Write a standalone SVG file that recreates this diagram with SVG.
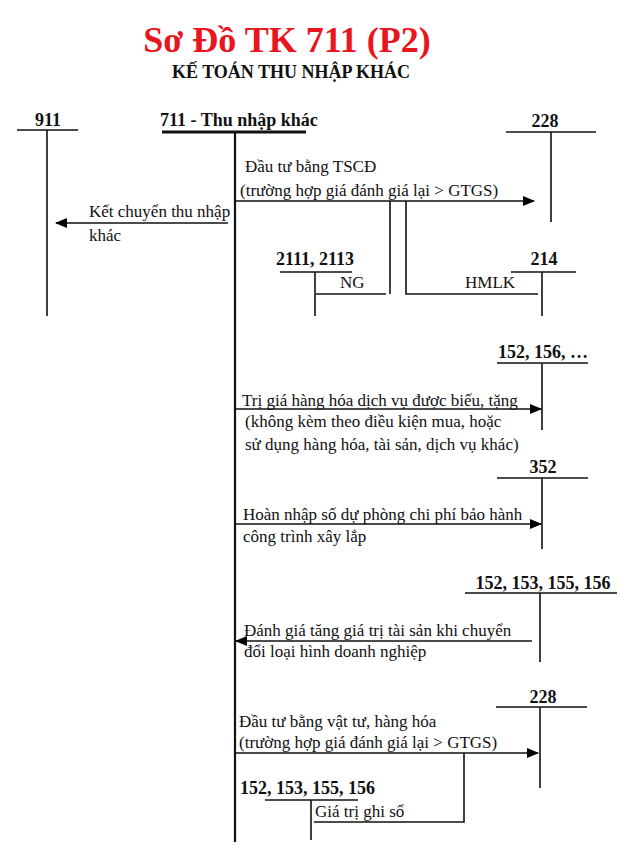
<svg xmlns="http://www.w3.org/2000/svg" width="627" height="850" viewBox="0 0 627 850">
<defs>
<marker id="ah" markerWidth="12" markerHeight="10" refX="11" refY="5" orient="auto" markerUnits="userSpaceOnUse">
<path d="M0,0 L12,5 L0,10 Z" fill="#000"/>
</marker>
<style>
.t{font-family:"Liberation Serif","Times New Roman",serif;font-size:17px;fill:#111}
.b{font-family:"Liberation Serif","Times New Roman",serif;font-size:18px;font-weight:bold;fill:#111}
.ln{stroke:#111;stroke-width:1.6;fill:none}
.mn{stroke:#111;stroke-width:2.2;fill:none}
.ar{stroke:#111;stroke-width:1.6;fill:none;marker-end:url(#ah)}
</style>
</defs>
<rect width="627" height="850" fill="#fff"/>
<g id="title">
<text x="287" y="52" text-anchor="middle" style="font-family:'Liberation Serif','Times New Roman',serif;font-size:36px;font-weight:bold;fill:#e8151d">Sơ Đồ TK 711 (P2)</text>
<text x="291" y="78" text-anchor="middle" class="b">KẾ TOÁN THU NHẬP KHÁC</text>
</g>
<g id="tk911">
<text x="48" y="126" text-anchor="middle" class="b">911</text>
<line x1="17" y1="130" x2="78" y2="130" class="ln"/>
<line x1="47" y1="130" x2="47" y2="316" class="ln"/>
</g>
<g id="tk711">
<text x="160" y="126" class="b">711 - Thu nhập khác</text>
<line x1="162" y1="132" x2="306" y2="132" stroke="#111" stroke-width="3"/>
<line x1="235" y1="132" x2="235" y2="842" class="mn"/>
</g>
<g id="tk228a">
<text x="545" y="127" text-anchor="middle" class="b">228</text>
<line x1="506" y1="132" x2="596" y2="132" class="ln"/>
<line x1="551" y1="132" x2="551" y2="222" class="ln"/>
</g>
<g id="tk2111">
<text x="315" y="265" text-anchor="middle" class="b">2111, 2113</text>
<line x1="280" y1="272" x2="352" y2="272" class="ln"/>
<line x1="315" y1="272" x2="315" y2="316" class="ln"/>
</g>
<g id="tk214">
<text x="544" y="265" text-anchor="middle" class="b">214</text>
<line x1="511" y1="272" x2="576" y2="272" class="ln"/>
<line x1="542" y1="272" x2="542" y2="316" class="ln"/>
</g>
<g id="tk152a">
<text x="543" y="358" text-anchor="middle" class="b">152, 156, …</text>
<line x1="497" y1="363" x2="588" y2="363" class="ln"/>
<line x1="542" y1="363" x2="542" y2="430" class="ln"/>
</g>
<g id="tk352">
<text x="543" y="473" text-anchor="middle" class="b">352</text>
<line x1="497" y1="478" x2="588" y2="478" class="ln"/>
<line x1="542" y1="478" x2="542" y2="549" class="ln"/>
</g>
<g id="tk152b">
<text x="543" y="589" text-anchor="middle" class="b">152, 153, 155, 156</text>
<line x1="465" y1="593" x2="617" y2="593" class="ln"/>
<line x1="540" y1="593" x2="540" y2="662" class="ln"/>
</g>
<g id="tk228b">
<text x="543" y="703" text-anchor="middle" class="b">228</text>
<line x1="496" y1="707" x2="587" y2="707" class="ln"/>
<line x1="540" y1="707" x2="540" y2="788" class="ln"/>
</g>
<g id="tk152c">
<text x="240" y="794" class="b">152, 153, 155, 156</text>
<line x1="265" y1="800" x2="358" y2="800" class="ln"/>
<line x1="311" y1="800" x2="311" y2="840" class="ln"/>
</g>
<g id="connectors">
<line x1="236" y1="201" x2="534" y2="201" class="ar"/>
<line x1="228" y1="223" x2="56" y2="223" class="ar"/>
<polyline points="390,201 390,294" class="ln"/>
<polyline points="316,294 386,294" class="ln"/>
<polyline points="406,201 406,294 538,294" class="ln"/>
<line x1="236" y1="409" x2="541" y2="409" class="ar"/>
<line x1="236" y1="524" x2="541" y2="524" class="ar"/>
<line x1="532" y1="641" x2="236" y2="641" class="ar"/>
<line x1="236" y1="753" x2="538" y2="753" class="ar"/>
<polyline points="464,753 464,822 314,822" class="ln"/>
</g>
<g id="labels">
<text x="245" y="172" class="t">Đầu tư bằng TSCĐ</text>
<text x="240" y="196" class="t">(trường hợp giá đánh giá lại &gt; GTGS)</text>
<text x="89" y="217" class="t">Kết chuyển thu nhập</text>
<text x="89" y="241" class="t">khác</text>
<text x="340" y="288" class="t">NG</text>
<text x="465" y="288" class="t">HMLK</text>
<text x="242" y="406" class="t">Trị giá hàng hóa dịch vụ được biếu, tặng</text>
<text x="245" y="427" class="t">(không kèm theo điều kiện mua, hoặc</text>
<text x="245" y="450" class="t">sử dụng hàng hóa, tài sản, dịch vụ khác)</text>
<text x="243" y="520" class="t">Hoàn nhập số dự phòng chi phí bảo hành</text>
<text x="243" y="542" class="t">công trình xây lắp</text>
<text x="244" y="636" class="t">Đánh giá tăng giá trị tài sản khi chuyển</text>
<text x="244" y="657" class="t">đổi loại hình doanh nghiệp</text>
<text x="239" y="727" class="t">Đầu tư bằng vật tư, hàng hóa</text>
<text x="239" y="748" class="t">(trường hợp giá đánh giá lại &gt; GTGS)</text>
<text x="315" y="817" class="t">Giá trị ghi sổ</text>
</g>
</svg>
